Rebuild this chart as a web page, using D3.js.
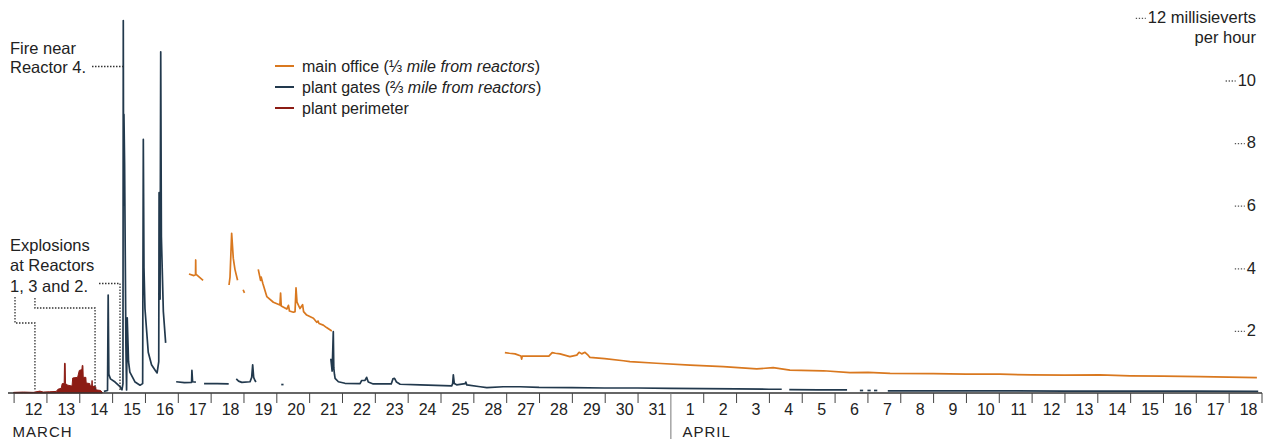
<!DOCTYPE html>
<html>
<head>
<meta charset="utf-8">
<script src="https://cdn.jsdelivr.net/npm/d3@7"></script>
<style>
  html, body { margin: 0; padding: 0; background: #fff; }
  svg { display: block; font-family: "Liberation Sans", Arial, sans-serif; }
</style>
</head>
<body>
<svg id="chart" width="1272" height="439"></svg>
<script>
// ---- DATA (x = days since March 12 00:00, y = millisieverts per hour) ----
const dayLabels = ["12","13","14","15","16","17","18","19","20","21","22","23","24","25","28","27","28","29","30","31",
                   "1","2","3","4","5","6","7","8","9","10","11","12","13","14","15","16","17","18"];
const monthLabels = [{name: "MARCH", day: 0}, {name: "APRIL", day: 20}];
const yTicks = [2, 4, 6, 8, 10, 12];

const perimeter = [[0.0,0.02],[0.3,0.03],[0.6,0.02],[0.8,0.06],[0.9,0.03],[1.1,0.04],[1.3,0.05],[1.35,0.12],[1.45,0.15],
  [1.48,0.3],[1.54,0.3],[1.55,0.95],[1.57,0.95],[1.58,0.3],[1.65,0.25],[1.78,0.22],[1.8,0.48],[1.95,0.5],[2.0,0.72],
  [2.08,0.75],[2.09,0.88],[2.11,0.88],[2.12,0.5],[2.2,0.5],[2.21,0.32],[2.32,0.3],[2.33,0.22],[2.38,0.25],[2.39,0.4],
  [2.4,0.22],[2.5,0.2],[2.51,0.1],[2.65,0.08],[2.7,0.02]];

const gates1 = [[2.75,0.05],[2.86,0.08],[2.88,3.13],[2.9,0.6],[2.95,0.45],[3.09,0.35],[3.24,0.2],[3.3,0.1],[3.33,0.3],
  [3.34,11.9],[3.35,6],[3.36,8.9],[3.38,7.3],[3.42,1.5],[3.44,0.1],[3.46,2.4],[3.5,1.0],[3.54,0.67],[3.7,0.35],[3.85,0.25],
  [3.93,0.3],[3.95,8.1],[3.97,4],[4.0,2.7],[4.1,1.3],[4.2,0.9],[4.31,0.73],[4.37,0.64],[4.42,1.0],[4.43,6.4],[4.46,3],
  [4.48,10.9],[4.5,5],[4.56,2.6],[4.63,1.6]];
const gates2 = [[4.95,0.36],[5.2,0.33],[5.42,0.34],[5.43,0.72],[5.45,0.36],[5.55,0.35]];
const gates3 = [[5.8,0.3],[6.2,0.3],[6.55,0.29]];
const gates4 = [[6.78,0.45],[6.85,0.38],[6.95,0.34],[7.2,0.36],[7.25,0.5],[7.28,0.9],[7.31,0.5],[7.35,0.4],[7.38,0.35]];
const gates5 = [[8.15,0.27],[8.22,0.27]];
const gates6 = [[9.66,1.1],[9.7,0.7],[9.72,1.4],[9.735,1.96],[9.75,0.8],[9.77,0.6],[9.79,0.47],[9.89,0.36],[10.09,0.31],
  [10.55,0.3],[10.6,0.4],[10.7,0.4],[10.75,0.5],[10.8,0.35],[10.95,0.29],[11.5,0.29],[11.55,0.45],[11.6,0.47],[11.66,0.35],
  [11.77,0.28],[12.38,0.26],[13.34,0.23],[13.37,0.3],[13.39,0.58],[13.42,0.3],[13.49,0.26],[13.75,0.3],[13.77,0.35],
  [13.8,0.26],[14.21,0.2],[14.41,0.17],[14.91,0.2],[15.42,0.2],[16,0.18],[17,0.17],[18,0.16],[19,0.16],[20,0.15],
  [21,0.14],[22,0.13],[23,0.12],[23.39,0.12]];
const gates7 = [[23.62,0.11],[24.5,0.1],[25.38,0.1]];
const gates8 = [[25.77,0.08],[25.87,0.08]];
const gates9 = [[26.0,0.08],[26.1,0.08]];
const gates10 = [[26.2,0.08],[26.3,0.08]];
const gates11 = [[26.62,0.07],[28,0.07],[30,0.07],[32,0.06],[34,0.06],[36,0.06],[37.9,0.05]];

const office1 = [[5.34,3.8],[5.49,3.75],[5.54,3.78],[5.545,4.25],[5.55,3.8],[5.77,3.6]];
const office2 = [[6.56,3.45],[6.59,3.7],[6.64,5.1],[6.69,4.3],[6.74,3.95],[6.82,3.6]];
const office3 = [[6.99,3.3],[7.03,3.2]];
const office4 = [[7.45,3.95],[7.52,3.6],[7.54,3.7],[7.59,3.5],[7.71,3.08],[7.91,2.9],[8.11,2.81],[8.13,3.19],[8.15,2.78],
  [8.32,2.68],[8.37,2.8],[8.40,2.62],[8.52,2.58],[8.57,2.6],[8.6,3.36],[8.63,2.9],[8.72,2.7],[8.8,2.82],[8.83,2.6],
  [8.925,2.49],[9.13,2.39],[9.23,2.26],[9.27,2.3],[9.3,2.22],[9.43,2.17],[9.53,2.09],[9.69,1.98]];
const office5 = [[14.96,1.29],[15.1,1.27],[15.27,1.25],[15.45,1.18],[15.47,1.08],[15.49,1.18],[15.8,1.18],[16.3,1.18],
  [16.4,1.29],[16.5,1.27],[16.64,1.25],[16.94,1.16],[17.15,1.21],[17.22,1.3],[17.3,1.25],[17.4,1.3],[17.5,1.2],[17.55,1.14],
  [18.0,1.1],[18.57,1.03],[18.77,1.0],[19.58,0.95],[20.6,0.89],[21.61,0.84],[22.63,0.77],[23.13,0.81],[23.64,0.73],
  [24.66,0.71],[25.47,0.65],[26.02,0.66],[26.69,0.63],[28,0.62],[29,0.6],[30.04,0.6],[31,0.58],[32,0.57],[33.08,0.58],
  [34,0.55],[35,0.54],[36.13,0.52],[37,0.51],[37.86,0.49]];

const gatesSegments = [gates1, gates2, gates3, gates4, gates5, gates6, gates7, gates8, gates9, gates10, gates11];
const officeSegments = [office1, office2, office3, office4, office5];

const legendItems = [
  {label: "main office (⅓ ", italic: "mile from reactors", end: ")", color: "#d9781f"},
  {label: "plant gates (⅔ ", italic: "mile from reactors", end: ")", color: "#22394d"},
  {label: "plant perimeter", italic: "", end: "", color: "#8c1c14"}
];
const explosionDays = [0.65, 2.48, 3.24];
const fireDay = 3.33;

// ---- CHART ----
const colors = {office: "#d9781f", gates: "#22394d", perimeter: "#8c1c14", text: "#222"};
const svg = d3.select("#chart");
const x = d3.scaleLinear().domain([0, 38]).range([13.6, 1261.5]);
const y = d3.scaleLinear().domain([0, 12]).range([393, 17.4]);

const line = d3.line().x(d => x(d[0])).y(d => y(d[1]));
const area = d3.area().x(d => x(d[0])).y0(y(0)).y1(d => y(d[1]));

// perimeter area
svg.append("path").datum(perimeter).attr("d", area)
  .attr("fill", colors.perimeter).attr("stroke", colors.perimeter).attr("stroke-width", 1);

// office lines
svg.append("g").selectAll("path").data(officeSegments).join("path")
  .attr("d", line).attr("fill", "none").attr("stroke", colors.office)
  .attr("stroke-width", 1.7).attr("stroke-linejoin", "round");

// gates lines
svg.append("g").selectAll("path").data(gatesSegments).join("path")
  .attr("d", line).attr("fill", "none").attr("stroke", colors.gates)
  .attr("stroke-width", 1.7).attr("stroke-linejoin", "round");

// x axis: ticks at day boundaries
const axisG = svg.append("g").attr("transform", `translate(0,${y(0)})`);
axisG.call(d3.axisBottom(x).tickValues(d3.range(0, 39)).tickSize(10).tickFormat(""));
axisG.select(".domain").attr("stroke", "#333").attr("stroke-width", 1.6).attr("d", `M8,0H1262`);
axisG.selectAll(".tick line").attr("stroke", "#444").attr("stroke-width", 1);
axisG.selectAll(".tick").filter(d => d === 20).select("line").attr("y2", 46).attr("stroke", "#777");

// day labels centered in slots
const labG = svg.append("g").attr("transform", `translate(0,${y(0)})`);
labG.call(d3.axisBottom(x).tickValues(d3.range(0, 38).map(d => d + 0.5)).tickSize(0).tickPadding(11)
  .tickFormat((d, i) => dayLabels[i]));
labG.select(".domain").remove();
labG.selectAll("text").attr("font-size", 16).attr("fill", colors.text)
  .attr("font-family", "'Liberation Sans', Arial, sans-serif").attr("dx", 3);

// month labels
svg.append("g").selectAll("text").data(monthLabels).join("text")
  .attr("x", d => x(d.day) + (d.day === 0 ? -1 : 12)).attr("y", 437)
  .attr("font-size", 15).attr("letter-spacing", 1).attr("fill", colors.text).text(d => d.name);

// y labels on the right with dotted leaders
const yG = svg.append("g");
const rightX = 1256;
yTicks.forEach(v => {
  const t = yG.append("text").attr("x", rightX).attr("y", y(v)).attr("dy", "0.35em")
    .attr("text-anchor", "end").attr("font-size", 16.5).attr("fill", colors.text)
    .text(v === 12 ? "12 millisieverts" : v);
  const w = t.node().getComputedTextLength();
  yG.append("line").attr("x1", rightX - w - 12).attr("x2", rightX - w - 2)
    .attr("y1", y(v) + 1).attr("y2", y(v) + 1)
    .attr("stroke", "#555").attr("stroke-width", 1.3).attr("stroke-dasharray", "1.3,1.7");
});
yG.append("text").attr("x", rightX).attr("y", y(12) + 20).attr("dy", "0.35em")
  .attr("text-anchor", "end").attr("font-size", 16.5).attr("fill", colors.text).text("per hour");

// legend
const lg = svg.append("g");
legendItems.forEach((it, i) => {
  const ly = 66 + i * 21;
  lg.append("line").attr("x1", 275).attr("x2", 294).attr("y1", ly).attr("y2", ly)
    .attr("stroke", it.color).attr("stroke-width", 2);
  const t = lg.append("text").attr("x", 302).attr("y", ly).attr("dy", "0.35em")
    .attr("font-size", 16).attr("fill", colors.text);
  t.append("tspan").text(it.label);
  if (it.italic) t.append("tspan").attr("font-style", "italic").text(it.italic);
  if (it.end) t.append("tspan").text(it.end);
});

// annotations
const ann = svg.append("g").attr("font-size", 16.5).attr("fill", colors.text);
ann.append("text").attr("x", 10).attr("y", 54).text("Fire near");
ann.append("text").attr("x", 10).attr("y", 73).text("Reactor 4.");
ann.append("text").attr("x", 10).attr("y", 251).text("Explosions");
ann.append("text").attr("x", 10).attr("y", 271).text("at Reactors");
ann.append("text").attr("x", 10).attr("y", 292).text("1, 3 and 2.");

const dot = {stroke: "#333", "stroke-width": 1.3, "stroke-dasharray": "1.5,1.5", fill: "none"};
function dotted(d) {
  const p = svg.append("path").attr("d", d);
  Object.entries(dot).forEach(([k, v]) => p.attr(k, v));
}
const base = y(0) - 2;
dotted(`M92,66.5H${x(fireDay)}`);
dotted(`M15,297V323H${x(explosionDays[0])}V${base}`);
dotted(`M${x(explosionDays[0])},298V308H${x(explosionDays[1])}V${base}`);
dotted(`M99,283.5H${x(explosionDays[2])}V${base}`);
</script>
</body>
</html>
